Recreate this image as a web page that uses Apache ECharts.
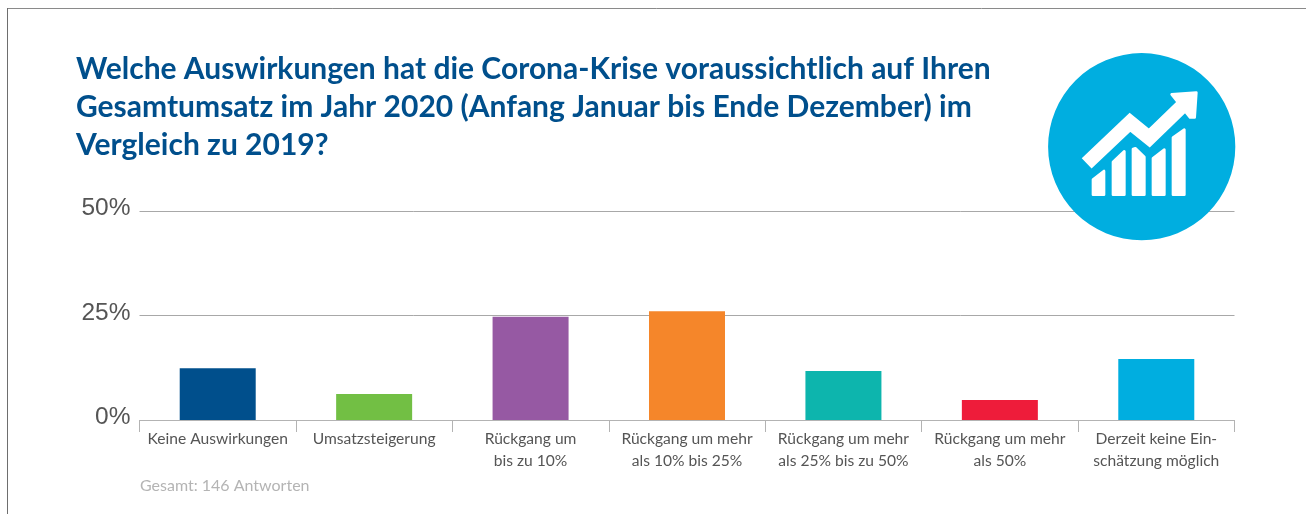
<!DOCTYPE html>
<html><head><meta charset="utf-8">
<style>html,body{margin:0;padding:0;background:#fff}#c{width:1306px;height:514px}</style>
<script src="https://cdn.jsdelivr.net/npm/echarts@6/dist/echarts.min.js"></script>
</head><body><div id="c"></div>
<script>
const categories = ["Keine Auswirkungen","Umsatzsteigerung","Rückgang um\nbis zu 10%","Rückgang um mehr\nals 10% bis 25%","Rückgang um mehr\nals 25% bis zu 50%","Rückgang um mehr\nals 50%","Derzeit keine Ein-\nschätzung möglich"];
const values = [12.4,6.2,24.7,26.0,11.7,4.8,14.6];
const barColors = ["#004f8c","#72bf44","#9659a3","#f5862a","#0db5ad","#ee1c3a","#00aee0"];
const titleText = "Welche Auswirkungen hat die Corona-Krise voraussichtlich auf Ihren\nGesamtumsatz im Jahr 2020 (Anfang Januar bis Ende Dezember) im\nVergleich zu 2019?";
const footnote = "Gesamt: 146 Antworten";
const yTicks = {min:0,max:50,interval:25};

const chart = echarts.init(document.getElementById('c'),null,{renderer:'canvas'});
const Z = 101;
const white = {fill:'#fff',stroke:'#fff',lineWidth:8,lineJoin:'round'};
const bar = pts => ({type:'polygon',z:Z,shape:{points:pts},style:white});
chart.setOption({
  animation:false,
  backgroundColor:'#fff',
  title:{left:71,top:45.5,text:titleText,textStyle:{fontFamily:'Lato',fontWeight:'bold',fontSize:30,lineHeight:38,color:'#004f8c'}},
  grid:{left:139.5,right:71.5,top:211,bottom:94},
  xAxis:{type:'category',data:categories,
    axisLine:{lineStyle:{color:'#b3b3b3',width:1}},
    axisTick:{show:true,length:12,alignWithLabel:false,lineStyle:{color:'#b3b3b3'}},
    axisLabel:{interval:0,margin:8,fontFamily:'Lato',fontSize:15.6,lineHeight:22,color:'#555',verticalAlign:'top'}},
  yAxis:{type:'value',min:yTicks.min,max:yTicks.max,interval:yTicks.interval,
    axisLine:{show:false},axisTick:{show:false},
    splitLine:{lineStyle:{color:'#a8a8a8',width:1}},
    axisLabel:{margin:9,formatter:'{value}%',fontFamily:'Liberation Sans',fontSize:24.5,color:'#555',verticalAlign:'bottom',lineHeight:5}},
  series:[{type:'bar',barWidth:76,
    data:values.map((v,i)=>({value:v,itemStyle:{color:barColors[i]}}))}],
  graphic:[
    {type:'line',z:90,shape:{x1:7.5,y1:8.5,x2:1306,y2:8.5},style:{stroke:'#8a8a8a',lineWidth:1}},
    {type:'line',z:90,shape:{x1:7.5,y1:8,x2:7.5,y2:514},style:{stroke:'#6e6e6e',lineWidth:1}},
    {type:'text',z:90,left:140,top:478,style:{text:footnote,fontFamily:'Lato',fontSize:16,fill:'#b4b4b4'}},
    {type:'circle',z:100,shape:{cx:1141.7,cy:146.7,r:93.6},style:{fill:'#00aee0'}},
    {type:'group',x:1030,y:40,scaleX:1/3,scaleY:1/3,children:[
      {type:'polyline',z:Z,shape:{points:[[170,370],[300,247],[358,294],[465,190]]},style:{fill:null,stroke:'#fff',lineWidth:43,lineJoin:'miter',lineCap:'butt'}},
      {type:'polygon',z:Z,shape:{points:[[425,163],[499,158],[494,232],[480,232]]},style:{fill:'#fff',stroke:'#fff',lineWidth:8,lineJoin:'round'}},
      bar([[189,419],[222,393],[222,464],[189,464]]),
      bar([[249,366],[283,334],[283,464],[249,464]]),
      bar([[309,327],[316,325],[343,351],[343,464],[309,464]]),
      bar([[369,355],[403,329],[403,464],[369,464]]),
      bar([[429,293],[463,269],[463,464],[429,464]])
    ]}
  ]
});
</script></body></html>
